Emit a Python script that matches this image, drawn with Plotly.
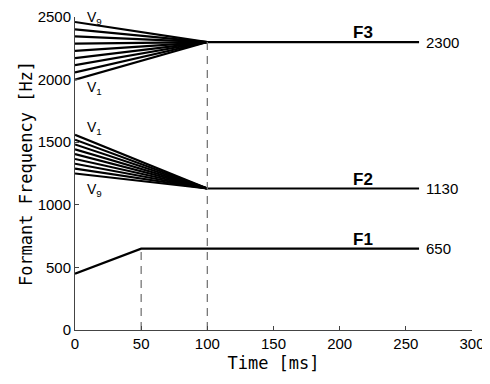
import plotly.graph_objects as go

# Data
f3_start = [2000, 2058, 2115, 2172, 2230, 2288, 2345, 2402, 2460]
f3_target = 2300
f2_start = [1560, 1520, 1482, 1443, 1405, 1366, 1328, 1289, 1250]
f2_target = 1130
f1_start = 450
f1_target = 650
f1_trans_end = 50
f23_trans_end = 100
t_end = 260
y_max = 2500

fig = go.Figure()
line = dict(color="black", width=2.2)

for v in f3_start:
    fig.add_trace(go.Scatter(x=[0, f23_trans_end], y=[v, f3_target], mode="lines", line=line))
for v in f2_start:
    fig.add_trace(go.Scatter(x=[0, f23_trans_end], y=[v, f2_target], mode="lines", line=line))
fig.add_trace(go.Scatter(x=[f23_trans_end, t_end], y=[f3_target, f3_target], mode="lines", line=line))
fig.add_trace(go.Scatter(x=[f23_trans_end, t_end], y=[f2_target, f2_target], mode="lines", line=line))
fig.add_trace(go.Scatter(x=[0, f1_trans_end, t_end], y=[f1_start, f1_target, f1_target], mode="lines", line=line))

dash = dict(color="#777777", width=1.3, dash="8px,6px")
fig.add_trace(go.Scatter(x=[f1_trans_end, f1_trans_end], y=[0, f1_target], mode="lines", line=dash))
fig.add_trace(go.Scatter(x=[f23_trans_end, f23_trans_end], y=[0, f3_target], mode="lines", line=dash))

tick_font = dict(family="Liberation Sans, Arial, sans-serif", size=15, color="black")
ann = []
for txt, y in [("F3", f3_target), ("F2", f2_target), ("F1", f1_target)]:
    ann.append(dict(x=218, y=y, text="<b>%s</b>" % txt, showarrow=False, yanchor="bottom",
                    yshift=-2, font=dict(family="Liberation Sans, Arial, sans-serif", size=17, color="black")))
for val in [f3_target, f2_target, f1_target]:
    ann.append(dict(x=t_end, y=val, text=str(val), showarrow=False, xanchor="left", xshift=5,
                    font=tick_font))
sub = dict(family="Liberation Sans, Arial, sans-serif", size=14, color="black")
v_labels = [("V<sub>9</sub>", 2492), ("V<sub>1</sub>", 1930), ("V<sub>1</sub>", 1610), ("V<sub>9</sub>", 1120)]
for txt, y in v_labels:
    ann.append(dict(x=15, y=y / y_max, yref="paper", yanchor="middle", xanchor="center", borderpad=0,
                    text=txt, showarrow=False, font=sub))

# page body has an 8px margin, so the figure is shifted by 8px; compensate
fig.update_layout(
    width=482, height=376,
    margin=dict(l=67, r=18, t=9, b=54, autoexpand=False),
    plot_bgcolor="white", paper_bgcolor="white",
    showlegend=False,
    annotations=ann,
    xaxis=dict(range=[0, 300], tickvals=[0, 50, 100, 150, 200, 250, 300], showgrid=False, zeroline=False,
               automargin=False,
               showline=True, linecolor="#444", linewidth=1, ticks="inside", ticklen=4, tickcolor="#444",
               tickfont=tick_font,
               title=dict(text="Time [ms]", standoff=6,
                          font=dict(family="DejaVu Sans Mono, monospace", size=17, color="black"))),
    yaxis=dict(range=[0, y_max], tickvals=[0, 500, 1000, 1500, 2000, 2500], showgrid=False, zeroline=False,
               automargin=False,
               showline=True, linecolor="#444", linewidth=1, ticks="inside", ticklen=4, tickcolor="#444",
               tickfont=tick_font,
               title=dict(text="Formant Frequency [Hz]", standoff=0,
                          font=dict(family="DejaVu Sans Mono, monospace", size=17, color="black"))),
)
fig.write_html("out.html")
